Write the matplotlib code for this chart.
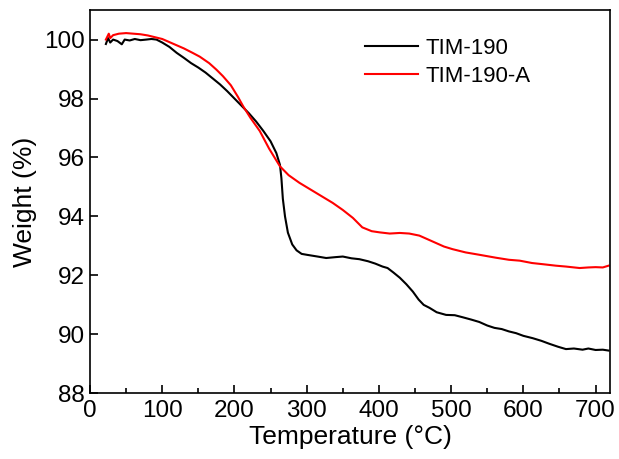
import matplotlib
matplotlib.use("Agg")
import matplotlib.pyplot as plt

# ── data ─────────────────────────────────────────────────────────────────────
t_black = [22, 25, 28, 32, 38, 44, 48, 55, 62, 70, 78, 85, 92, 100, 110, 120,
           130, 140, 150, 160, 170, 180, 190, 200, 210, 220, 230, 240, 250,
           258, 263, 265, 267, 270, 274, 280, 286, 293, 300, 315, 327, 340,
           350, 362, 373, 385, 395, 405, 412, 420, 429, 438, 447, 455, 462,
           470, 480, 493, 505, 516, 528, 539, 550, 560, 570, 580, 590, 600,
           613, 625, 636, 648, 659, 670, 682, 690, 700, 710, 718]
w_black = [99.85, 100.05, 99.9, 100.0, 99.95, 99.84, 100.0, 99.97, 100.02,
           99.98, 100.0, 100.02, 100.0, 99.9, 99.75, 99.55, 99.38, 99.2, 99.05,
           98.88, 98.68, 98.48, 98.25, 98.0, 97.75, 97.5, 97.22, 96.9, 96.55,
           96.15, 95.75, 95.3, 94.6, 94.0, 93.45, 93.05, 92.85, 92.73, 92.70,
           92.64, 92.59, 92.62, 92.64, 92.58, 92.55, 92.48, 92.40, 92.30, 92.25,
           92.1, 91.92, 91.7, 91.45, 91.18, 91.0, 90.9, 90.75, 90.66, 90.65,
           90.58, 90.5, 90.42, 90.3, 90.22, 90.18, 90.1, 90.04, 89.95, 89.87,
           89.78, 89.68, 89.58, 89.50, 89.52, 89.48, 89.52, 89.47, 89.48, 89.45]

t_red = [22, 24, 26, 28, 32, 40, 50, 60, 70, 80, 90, 100, 115, 130, 142, 152,
         165, 175, 184, 195, 205, 212, 222, 235, 248, 263, 275, 290, 313, 336,
         350, 364, 377, 390, 401, 415, 429, 442, 456, 468, 479, 490, 502, 520,
         539, 562, 580, 595, 612, 627, 645, 659, 678, 690, 700, 710, 718]
w_red = [100.0, 100.1, 100.2, 100.05, 100.15, 100.2, 100.22, 100.2, 100.18,
         100.14, 100.08, 100.02, 99.86, 99.7, 99.55, 99.42, 99.2, 98.98, 98.76,
         98.45, 98.05, 97.74, 97.35, 96.9, 96.3, 95.7, 95.4, 95.14, 94.8, 94.46,
         94.22, 93.95, 93.63, 93.5, 93.46, 93.42, 93.44, 93.42, 93.35, 93.22,
         93.1, 92.98, 92.89, 92.78, 92.7, 92.6, 92.53, 92.5, 92.42, 92.38,
         92.33, 92.3, 92.25, 92.27, 92.28, 92.27, 92.33]

labels = ["TIM-190", "TIM-190-A"]
x_ticks = [0, 100, 200, 300, 400, 500, 600, 700]
y_ticks = [88, 90, 92, 94, 96, 98, 100]

# ── plot ─────────────────────────────────────────────────────────────────────
plt.rcParams["font.family"] = ["Liberation Sans", "DejaVu Sans"]

fig = plt.figure(figsize=(6.19, 4.59), dpi=100)
ax = fig.add_axes([0.1454, 0.1431, 0.8401, 0.8349])

ax.plot(t_black, w_black, color="black", lw=1.5, label=labels[0])
ax.plot(t_red, w_red, color="#ff0000", lw=1.5, label=labels[1])

ax.set_xlim(0, 720)
ax.set_ylim(88, 101)
ax.set_xticks(x_ticks)
ax.set_xticks(range(50, 720, 100), minor=True)
ax.set_yticks(y_ticks)

ax.tick_params(axis="both", which="major", direction="in", length=6,
               width=1.2, labelsize=17.5, top=False, right=False)
ax.tick_params(axis="x", which="minor", direction="in", length=3.5,
               width=1.2, top=False)
ax.tick_params(axis="x", pad=5)
for sp in ax.spines.values():
    sp.set_linewidth(1.2)

ax.set_xlabel("Temperature (°C)", fontsize=19, labelpad=2)
ax.set_ylabel("Weight (%)", fontsize=19, labelpad=5)

ax.legend(loc="upper left", bbox_to_anchor=(0.529, 0.927), frameon=False,
          fontsize=16, handlelength=2.4, handletextpad=0.32,
          borderpad=0, borderaxespad=0, labelspacing=0.3)

fig.savefig("out.png", dpi=100)
